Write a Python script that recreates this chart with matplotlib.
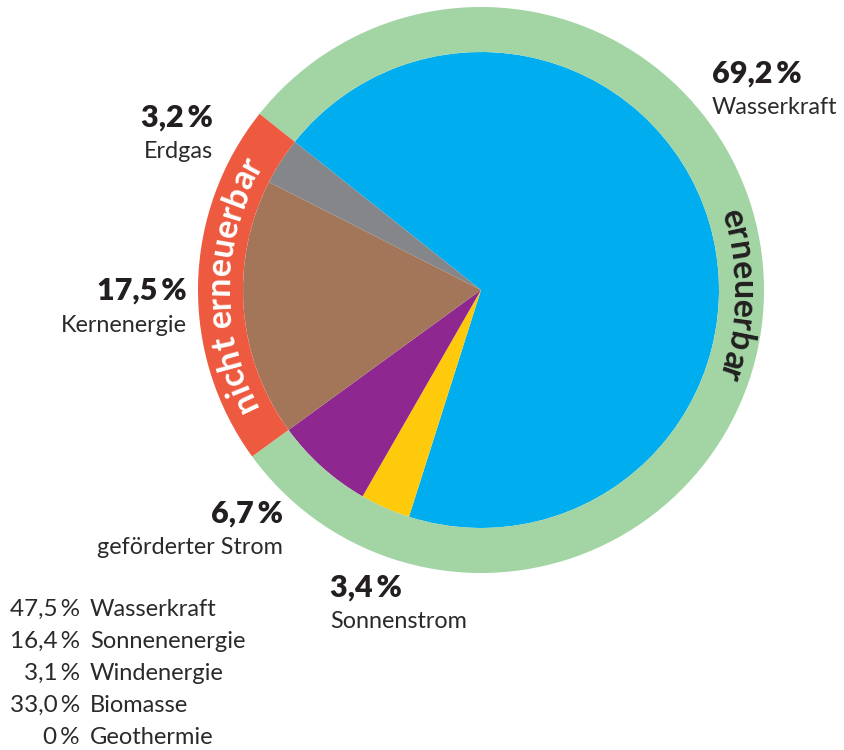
import numpy as np
import matplotlib
matplotlib.use("Agg")
import matplotlib.pyplot as plt
from matplotlib.font_manager import FontProperties

plt.rcParams['font.family'] = ['Lato', 'DejaVu Sans']

# Strommix (innen) und erneuerbar / nicht erneuerbar (Ring)
labels = ['Wasserkraft', 'Sonnenstrom', 'geförderter Strom', 'Kernenergie', 'Erdgas']
values = [69.2, 3.4, 6.7, 17.5, 3.2]
colors = ['#00ADEE', '#FFC90C', '#8E278F', '#A3765A', '#848689']
ring_labels = ['erneuerbar', 'nicht erneuerbar']
ring_values = [79.3, 20.7]
ring_colors = ['#A2D4A4', '#EE5A40']
ring_text_colors = ['#231F20', 'white']

# Zusammensetzung geförderter Strom
mix_pct = ['47,5\u2009%', '16,4\u2009%', '3,1\u2009%', '33,0\u2009%', '0\u2009%']
mix_names = ['Wasserkraft', 'Sonnenenergie', 'Windenergie', 'Biomasse', 'Geothermie']

W, H = 844, 750
fig = plt.figure(figsize=(W / 100, H / 100), dpi=100)
ax = fig.add_axes([0, 0, 1, 1])

cx, cy = 481, H - 290
r_in, r_out = 238, 283
start = 141.5
dark = '#231F20'

ax.pie(values, colors=colors, startangle=start, counterclock=False,
       radius=r_in, center=(cx, cy), wedgeprops=dict(linewidth=0))
ax.pie(ring_values, colors=ring_colors, startangle=start, counterclock=False,
       radius=r_out, center=(cx, cy),
       wedgeprops=dict(width=r_out - r_in, linewidth=0))

ax.set_xlim(0, W)
ax.set_ylim(0, H)
ax.set_aspect('equal')
ax.axis('off')

renderer = fig.canvas.get_renderer()


def curved_text(s, theta_c, radius, size, color):
    fp = FontProperties(family=['Lato', 'DejaVu Sans'], weight='bold', size=size)

    def w(t):
        return renderer.get_text_width_height_descent(t, fp, ismath=False)[0]

    total = w(s)
    xh = renderer.get_text_width_height_descent('x', fp, ismath=False)[1]
    rb = radius - xh / 2
    for i, ch in enumerate(s):
        if ch == ' ':
            continue
        pos = w(s[:i + 1]) - w(ch) / 2
        a = np.radians(theta_c) + (total / 2 - pos) / rb
        ax.text(cx + rb * np.cos(a), cy + rb * np.sin(a), ch,
                fontproperties=fp, color=color, rotation=np.degrees(a) - 90,
                rotation_mode='anchor', ha='center', va='baseline')


# Ringbeschriftung mittig auf jedem Segment
acc = start
for lab, val, tc in zip(ring_labels, ring_values, ring_text_colors):
    span = val * 3.6
    curved_text(lab, acc - span / 2, (r_in + r_out) / 2, 24.5, tc)
    acc -= span

# Beschriftungen der Segmente (x, y in Pixeln, Ausrichtung)
lab_pos = [(712, 74, 'left'), (330, 588, 'left'), (283, 514, 'right'),
           (187, 291, 'right'), (213, 118, 'right')]
for lab, val, (x, y, ha) in zip(labels, values, lab_pos):
    pct = ('%.1f' % val).replace('.', ',') + '\u2009%'
    ax.text(x, H - y, pct, fontsize=22, fontweight='heavy', color=dark,
            ha=ha, va='center')
    ax.text(x, H - y - 34, lab, fontsize=16.8, color='#2a2a2a',
            ha=ha, va='center')

# Liste unten links
for i, (p, n) in enumerate(zip(mix_pct, mix_names)):
    y = H - 609 - i * 32
    ax.text(80, y, p, fontsize=17.5, color='#2a2a2a', ha='right', va='center')
    ax.text(90, y, n, fontsize=17, color='#2a2a2a', ha='left', va='center')

fig.savefig('out.png', dpi=100)
